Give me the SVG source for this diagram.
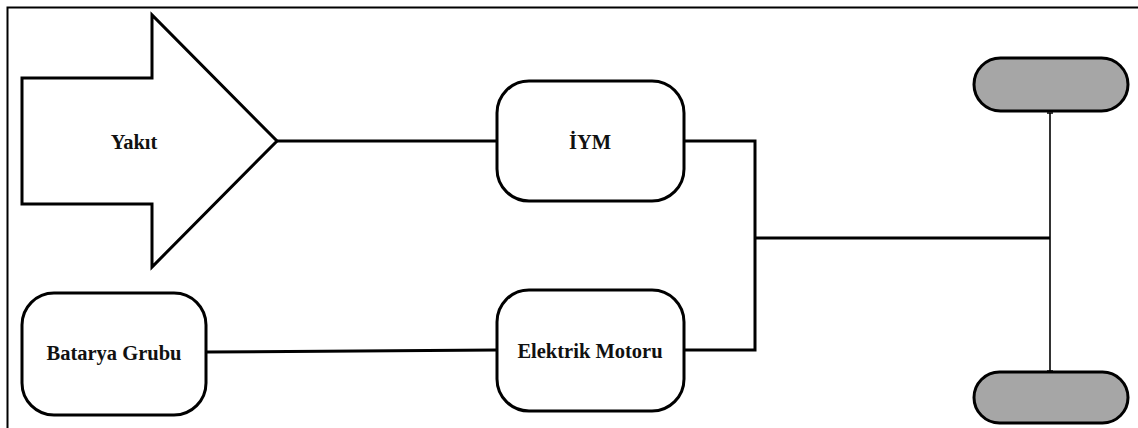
<svg xmlns="http://www.w3.org/2000/svg" width="1138" height="428" viewBox="0 0 1138 428">
<style>
.box{fill:#fff;stroke:#000;stroke-width:3}
.wheel{fill:#a6a6a6;stroke:#000;stroke-width:3}
.lbl{font-family:"Liberation Serif",serif;font-weight:bold;font-size:20.5px;fill:#111;text-anchor:middle;dominant-baseline:central}
.conn{fill:none;stroke:#000;stroke-width:3}
.axle{fill:none;stroke:#000;stroke-width:1.6}
</style>
<rect width="1138" height="428" fill="#fff"/>
<path d="M7.5,428 V7.5 H1138" fill="none" stroke="#000" stroke-width="2"/>
<g id="connectors">
<path class="conn" d="M277,141 H497"/>
<path class="conn" d="M684,141 H755 V350 H684"/>
<path class="conn" d="M755,238 H1050"/>
<path class="conn" d="M207,352 L497,350"/>
<path class="axle" d="M1050,113 V371"/>
<path d="M1047,113 H1053 M1047,371 H1053" stroke="#000" stroke-width="1.5"/>
</g>
<g id="yakit">
<polygon class="box" points="22,78 152,78 152,15 277,141 152,267 152,204 22,204"/>
<text class="lbl" x="134" y="142">Yakıt</text>
</g>
<g id="iym">
<rect class="box" x="497" y="81" width="187" height="120" rx="32"/>
<text class="lbl" x="590" y="142">İYM</text>
</g>
<g id="elektrik-motoru">
<rect class="box" x="497" y="290" width="187" height="121" rx="32"/>
<text class="lbl" x="590" y="351">Elektrik Motoru</text>
</g>
<g id="batarya-grubu">
<rect class="box" x="22" y="293" width="184" height="122" rx="32"/>
<text class="lbl" x="114" y="353">Batarya Grubu</text>
</g>
<g id="wheel-top">
<rect class="wheel" x="974" y="58" width="154" height="53" rx="26.5"/>
</g>
<g id="wheel-bottom">
<rect class="wheel" x="974" y="372" width="154" height="51" rx="25.5"/>
</g>
</svg>
